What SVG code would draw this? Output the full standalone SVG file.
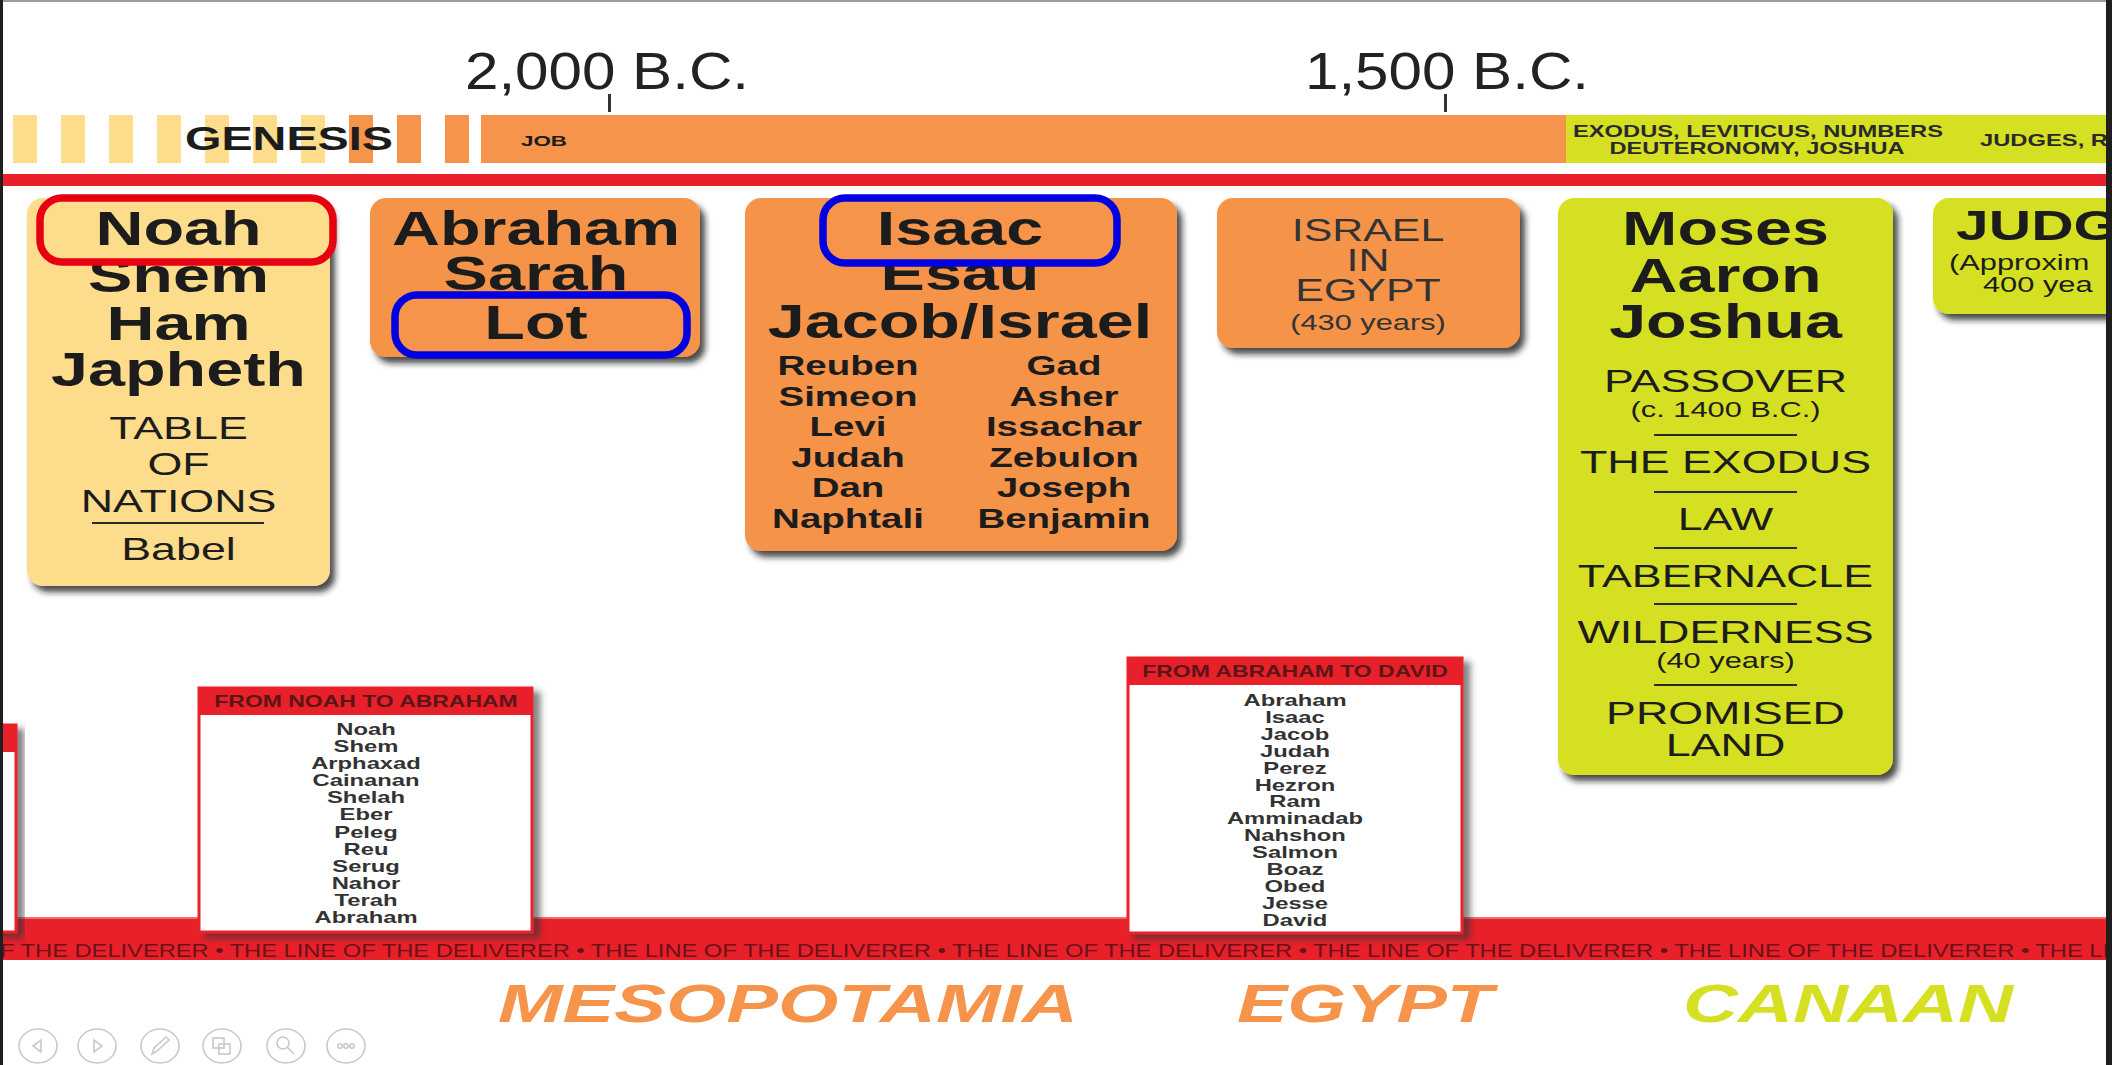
<svg xmlns="http://www.w3.org/2000/svg" width="2112" height="1065" viewBox="0 0 2112 1065">
<defs>
<style>
text{font-family:"Liberation Sans",Arial,Helvetica,sans-serif;fill:#1c1c1c}
.c{text-anchor:middle}
.big{font-size:47.5px;font-weight:bold}
.jud{font-size:42px;font-weight:bold}
.reg{font-size:32px}
.sm{font-size:22px}
.tr{font-size:27.5px;font-weight:bold}
.ls{font-size:17px;font-weight:bold;fill:#333}
.hd{font-size:16.4px;font-weight:bold;fill:#5a1616}
.bar{font-size:17px;font-weight:bold;fill:#2a2a2a}
.date{font-size:52px;fill:#222}
.rgn{font-size:54px;font-weight:bold;font-style:italic}
.band{font-size:19px;fill:#6a1218}
.g3{fill:#333}
.ot{fill:#F5944A}
.gt{fill:#D6E023}
.yel{fill:#FDDC8C}
.org{fill:#F5944A}
.grn{fill:#D6E023}
.sep{stroke:#2a2a2a;stroke-width:2}
.red{fill:#E8202A}
.icon{fill:none;stroke:#c9c9c9;stroke-width:1.6}
</style>
<filter id="sh" x="-10%" y="-10%" width="125%" height="125%">
<feDropShadow dx="5" dy="6" stdDeviation="3" flood-color="#1a1a1a" flood-opacity="0.8"/>
</filter>
<filter id="sh2" x="-10%" y="-10%" width="125%" height="125%">
<feDropShadow dx="7" dy="5" stdDeviation="3" flood-color="#333" flood-opacity="0.6"/>
</filter>
<clipPath id="frame"><rect x="3" y="0" width="2103" height="1065"/></clipPath>
</defs>

<rect x="0" y="0" width="2112" height="1065" fill="#fff"/>

<g clip-path="url(#frame)">
<!-- timeline bar -->
<g id="timeline">
<g class="yel">
<rect x="13" y="115" width="24" height="48"/>
<rect x="61" y="115" width="24" height="48"/>
<rect x="109" y="115" width="24" height="48"/>
<rect x="157" y="115" width="24" height="48"/>
<rect x="205" y="115" width="24" height="48"/>
<rect x="253" y="115" width="24" height="48"/>
<rect x="301" y="115" width="24" height="48"/>
</g>
<g class="org">
<rect x="349" y="115" width="24" height="48"/>
<rect x="397" y="115" width="24" height="48"/>
<rect x="445" y="115" width="24" height="48"/>
<rect x="481" y="115" width="1085" height="48"/>
</g>
<rect class="grn" x="1566" y="115" width="560" height="48"/>
<text x="185" y="150" font-size="33" font-weight="bold" textLength="208" lengthAdjust="spacingAndGlyphs">GENESIS</text>
<text x="521" y="146" font-size="15.5" font-weight="bold" textLength="46" lengthAdjust="spacingAndGlyphs">JOB</text>
<text class="bar c" x="1758" y="137" textLength="370" lengthAdjust="spacingAndGlyphs">EXODUS, LEVITICUS, NUMBERS</text>
<text class="bar c" x="1757" y="154" textLength="295" lengthAdjust="spacingAndGlyphs">DEUTERONOMY, JOSHUA</text>
<text class="bar" x="1980" y="146" textLength="128" lengthAdjust="spacingAndGlyphs">JUDGES, R</text>
<rect class="red" x="0" y="174" width="2112" height="12"/>
<text class="date" x="465" y="89" textLength="284" lengthAdjust="spacingAndGlyphs">2,000 B.C.</text>
<text class="date" x="1305" y="89" textLength="284" lengthAdjust="spacingAndGlyphs">1,500 B.C.</text>
<rect x="608" y="94" width="3" height="18" fill="#333"/>
<rect x="1444" y="94" width="3" height="18" fill="#333"/>
</g>

<!-- Noah -->
<g id="node-noah">
<rect class="yel" x="27" y="198" width="303" height="388" rx="16" filter="url(#sh)"/>
<g transform="translate(178.5 0) scale(1.4 1)">
<text class="big c" x="0" y="292">Shem</text>
<text class="big c" x="0" y="340">Ham</text>
<text class="big c" x="0" y="386">Japheth</text>
<text class="reg c" x="0" y="439">TABLE</text>
<text class="reg c" x="0" y="475">OF</text>
<text class="reg c" x="0" y="512">NATIONS</text>
<text class="reg c" x="0" y="560">Babel</text>
</g>
<line class="sep" x1="92" y1="523" x2="264" y2="523"/>
<rect x="40" y="198" width="293" height="64" rx="22" fill="#FDDC8C" stroke="#E60012" stroke-width="7.5"/>
<g transform="translate(178.5 0) scale(1.4 1)"><text class="big c" x="0" y="245">Noah</text></g>
</g>

<!-- Abraham -->
<g id="node-abraham">
<rect class="org" x="370" y="198" width="330" height="159" rx="16" filter="url(#sh)"/>
<g transform="translate(536 0) scale(1.4 1)">
<text class="big c" x="0" y="245">Abraham</text>
<text class="big c" x="0" y="290">Sarah</text>
</g>
<rect x="395" y="295" width="292" height="60" rx="22" fill="#F5944A" stroke="#0000E0" stroke-width="7.5"/>
<g transform="translate(536 0) scale(1.4 1)"><text class="big c" x="0" y="339">Lot</text></g>
</g>

<!-- Isaac -->
<g id="node-isaac">
<rect class="org" x="745" y="198" width="432" height="353" rx="16" filter="url(#sh)"/>
<g transform="translate(960 0) scale(1.4 1)">
<text class="big c" x="0" y="290">Esau</text>
<text class="big c" x="0" y="338">Jacob/Israel</text>
</g>
<g transform="translate(848 0) scale(1.4 1)">
<text class="tr c" x="0" y="375">Reuben</text>
<text class="tr c" x="0" y="405.6">Simeon</text>
<text class="tr c" x="0" y="436.2">Levi</text>
<text class="tr c" x="0" y="466.8">Judah</text>
<text class="tr c" x="0" y="497.4">Dan</text>
<text class="tr c" x="0" y="528">Naphtali</text>
</g>
<g transform="translate(1064 0) scale(1.4 1)">
<text class="tr c" x="0" y="375">Gad</text>
<text class="tr c" x="0" y="405.6">Asher</text>
<text class="tr c" x="0" y="436.2">Issachar</text>
<text class="tr c" x="0" y="466.8">Zebulon</text>
<text class="tr c" x="0" y="497.4">Joseph</text>
<text class="tr c" x="0" y="528">Benjamin</text>
</g>
<rect x="823" y="198" width="294" height="65" rx="22" fill="#F5944A" stroke="#0000E0" stroke-width="7.5"/>
<g transform="translate(960 0) scale(1.4 1)"><text class="big c" x="0" y="245">Isaac</text></g>
</g>

<!-- Israel in Egypt -->
<g id="node-egypt">
<rect class="org" x="1217" y="198" width="303" height="150" rx="16" filter="url(#sh)"/>
<g transform="translate(1368 0) scale(1.34 1)">
<text class="reg c g3" x="0" y="241" font-size="33">ISRAEL</text>
<text class="reg c g3" x="0" y="271" font-size="33">IN</text>
<text class="reg c g3" x="0" y="301" font-size="33">EGYPT</text>
</g>
<g transform="translate(1368 0) scale(1.4 1)">
<text class="sm c g3" x="0" y="330">(430 years)</text>
</g>
</g>

<!-- Moses -->
<g id="node-moses">
<rect class="grn" x="1558" y="198" width="335" height="577" rx="16" filter="url(#sh)"/>
<g transform="translate(1725.5 0) scale(1.4 1)">
<text class="big c" x="0" y="245">Moses</text>
<text class="big c" x="0" y="292">Aaron</text>
<text class="big c" x="0" y="338">Joshua</text>
<text class="reg c" x="0" y="392">PASSOVER</text>
<text class="sm c" x="0" y="417">(c. 1400 B.C.)</text>
<text class="reg c" x="0" y="473">THE EXODUS</text>
<text class="reg c" x="0" y="530">LAW</text>
<text class="reg c" x="0" y="587">TABERNACLE</text>
<text class="reg c" x="0" y="643">WILDERNESS</text>
<text class="sm c" x="0" y="668">(40 years)</text>
<text class="reg c" x="0" y="724">PROMISED</text>
<text class="reg c" x="0" y="756">LAND</text>
</g>
<line class="sep" x1="1654" y1="435" x2="1797" y2="435"/>
<line class="sep" x1="1654" y1="492" x2="1797" y2="492"/>
<line class="sep" x1="1654" y1="548" x2="1797" y2="548"/>
<line class="sep" x1="1654" y1="604" x2="1797" y2="604"/>
<line class="sep" x1="1654" y1="685" x2="1797" y2="685"/>
</g>

<!-- Judges (cut by frame) -->
<g id="node-judges">
<rect class="grn" x="1933" y="198" width="220" height="116" rx="16" filter="url(#sh)"/>
<text class="jud" transform="translate(1956 240) scale(1.4 1)">JUDG</text>
<text class="sm" transform="translate(1949 270) scale(1.4 1)">(Approxim</text>
<text class="sm" transform="translate(1983 292) scale(1.4 1)">400 yea</text>
</g>

<g id="connectors"></g>

<!-- band -->
<g id="band">
<rect class="red" x="0" y="918" width="2112" height="42"/>
<rect x="0" y="917" width="2112" height="2" fill="#f26a6f"/>
<text class="band" x="0" y="957" textLength="2109" lengthAdjust="spacingAndGlyphs">F THE DELIVERER • THE LINE OF THE DELIVERER • THE LINE OF THE DELIVERER • THE LINE OF THE DELIVERER • THE LINE OF THE DELIVERER • THE LINE OF THE DELIVERER • THE LI</text>
</g>

<!-- partial list box at left -->
<g id="list-left">
<rect x="-40" y="725" width="56" height="207" fill="#fff" stroke="#E8202A" stroke-width="3" filter="url(#sh2)"/>
<rect class="red" x="-40" y="725" width="56" height="27"/>
</g>

<!-- From Noah to Abraham -->
<g id="list-noah-abraham">
<rect x="199" y="688" width="333" height="244" fill="#fff" stroke="#E8202A" stroke-width="3" filter="url(#sh2)"/>
<rect class="red" x="199" y="688" width="333" height="27"/>
<text class="hd c" transform="translate(366 707) scale(1.4 1)">FROM NOAH TO ABRAHAM</text>
<g transform="translate(366 0) scale(1.4 1)">
<text class="ls c" x="0" y="735">Noah</text>
<text class="ls c" x="0" y="752.1">Shem</text>
<text class="ls c" x="0" y="769.2">Arphaxad</text>
<text class="ls c" x="0" y="786.3">Cainanan</text>
<text class="ls c" x="0" y="803.4">Shelah</text>
<text class="ls c" x="0" y="820.5">Eber</text>
<text class="ls c" x="0" y="837.6">Peleg</text>
<text class="ls c" x="0" y="854.7">Reu</text>
<text class="ls c" x="0" y="871.8">Serug</text>
<text class="ls c" x="0" y="888.9">Nahor</text>
<text class="ls c" x="0" y="906">Terah</text>
<text class="ls c" x="0" y="923.1">Abraham</text>
</g>
</g>

<!-- From Abraham to David -->
<g id="list-abraham-david">
<rect x="1128" y="658" width="334" height="275" fill="#fff" stroke="#E8202A" stroke-width="3" filter="url(#sh2)"/>
<rect class="red" x="1128" y="658" width="334" height="27"/>
<text class="hd c" transform="translate(1295 677) scale(1.4 1)">FROM ABRAHAM TO DAVID</text>
<g transform="translate(1295 0) scale(1.4 1)">
<text class="ls c" x="0" y="706">Abraham</text>
<text class="ls c" x="0" y="722.9">Isaac</text>
<text class="ls c" x="0" y="739.8">Jacob</text>
<text class="ls c" x="0" y="756.8">Judah</text>
<text class="ls c" x="0" y="773.7">Perez</text>
<text class="ls c" x="0" y="790.6">Hezron</text>
<text class="ls c" x="0" y="807.5">Ram</text>
<text class="ls c" x="0" y="824.4">Amminadab</text>
<text class="ls c" x="0" y="841.4">Nahshon</text>
<text class="ls c" x="0" y="858.3">Salmon</text>
<text class="ls c" x="0" y="875.2">Boaz</text>
<text class="ls c" x="0" y="892.1">Obed</text>
<text class="ls c" x="0" y="909">Jesse</text>
<text class="ls c" x="0" y="926">David</text>
</g>
</g>

<!-- region labels -->
<g id="regions">
<text class="rgn ot" x="498" y="1022" textLength="580" lengthAdjust="spacingAndGlyphs">MESOPOTAMIA</text>
<text class="rgn ot" x="1237" y="1022" textLength="256" lengthAdjust="spacingAndGlyphs">EGYPT</text>
<text class="rgn gt" x="1683" y="1022" textLength="330" lengthAdjust="spacingAndGlyphs">CANAAN</text>
</g>

<!-- viewer controls -->
<g id="controls" class="icon">
<ellipse cx="38" cy="1046" rx="19" ry="17"/>
<polygon points="33,1046 41,1040 41,1052"/>
<ellipse cx="97" cy="1046" rx="19" ry="17"/>
<polygon points="102,1046 94,1040 94,1052"/>
<ellipse cx="160" cy="1046" rx="19" ry="17"/>
<path d="M152,1054 L154,1048 L166,1037 L169,1040 L157,1051 Z"/>
<ellipse cx="222" cy="1046" rx="19" ry="17"/>
<rect x="213" y="1038" width="11" height="10"/>
<rect x="219" y="1044" width="11" height="10"/>
<ellipse cx="286" cy="1046" rx="19" ry="17"/>
<circle cx="283" cy="1043" r="6"/>
<line x1="287" y1="1047" x2="294" y2="1054"/>
<ellipse cx="346" cy="1046" rx="19" ry="17"/>
<circle cx="340" cy="1046" r="2.2"/>
<circle cx="346" cy="1046" r="2.2"/>
<circle cx="352" cy="1046" r="2.2"/>
</g>
</g>

<!-- frame -->
<rect x="0" y="0" width="2112" height="2" fill="#9a9a9a"/>
<rect x="0" y="0" width="3" height="1065" fill="#1e1e1e"/>
<rect x="2106" y="0" width="6" height="1065" fill="#1e1e1e"/>
</svg>
